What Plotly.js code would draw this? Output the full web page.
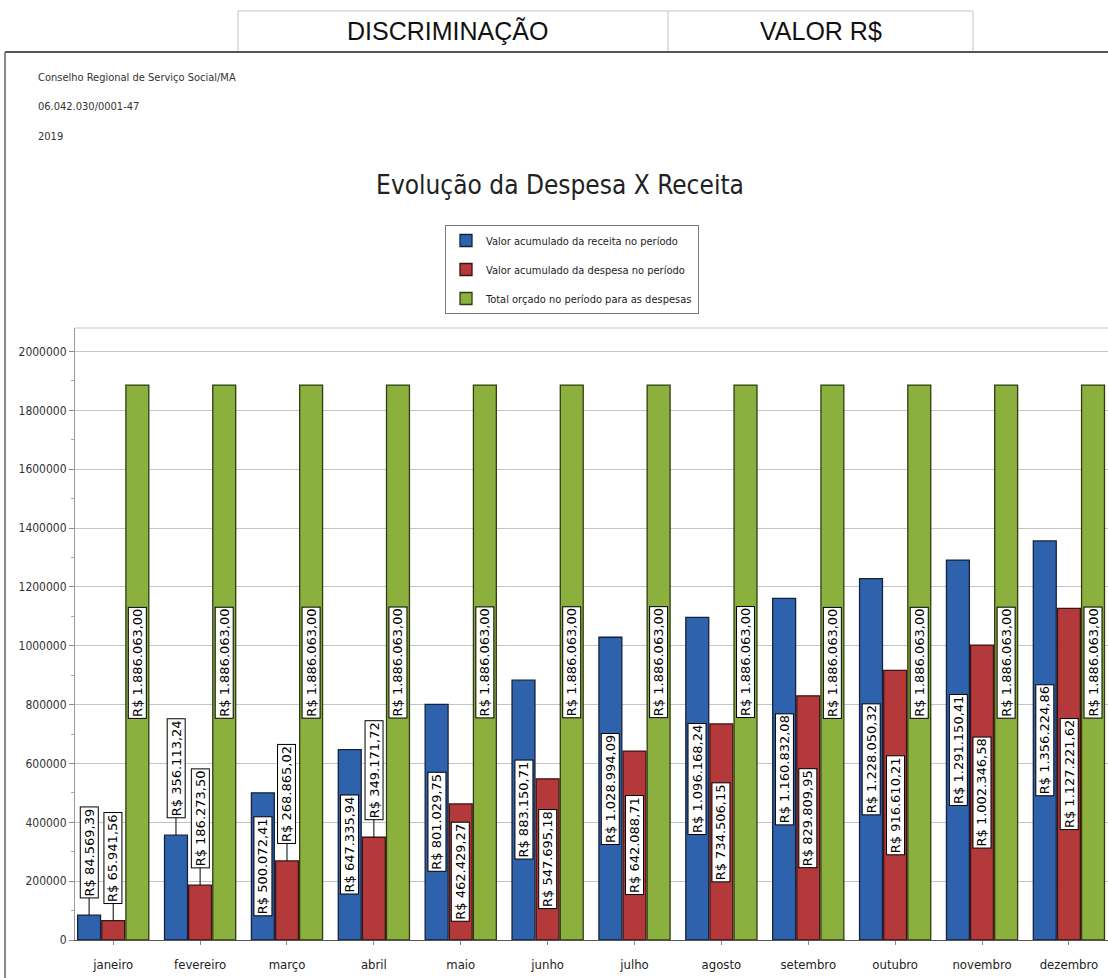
<!DOCTYPE html>
<html>
<head>
<meta charset="utf-8">
<script src="https://cdn.plot.ly/plotly-3.0.1.min.js"></script>
<style>
  html, body { margin: 0; padding: 0; background: #ffffff; }
  #chart { width: 1108px; height: 978px; }
</style>
</head>
<body>
<div id="chart"></div>
<script>
// ---------- DATA ----------
const months = ['janeiro', 'fevereiro', 'março', 'abril', 'maio', 'junho', 'julho', 'agosto', 'setembro', 'outubro', 'novembro', 'dezembro'];
const receita = [84569.39, 356113.24, 500072.41, 647335.94, 801029.75, 883150.71, 1028994.09, 1096168.24, 1160832.08, 1228050.32, 1291150.41, 1356224.86];
const despesa = [65941.56, 186273.50, 268865.02, 349171.72, 462429.27, 547695.18, 642088.71, 734506.15, 829809.95, 916610.21, 1002346.58, 1127221.62];
const orcado = [1886063.00, 1886063.00, 1886063.00, 1886063.00, 1886063.00, 1886063.00, 1886063.00, 1886063.00, 1886063.00, 1886063.00, 1886063.00, 1886063.00];
const seriesNames = ['Valor acumulado da receita no período', 'Valor acumulado da despesa no período', 'Total orçado no período para as despesas'];
const headerCols = ['DISCRIMINAÇÃO', 'VALOR R$'];
const infoLines = ['Conselho Regional de Serviço Social/MA', '06.042.030/0001-47', '2019'];
const chartTitle = 'Evolução da Despesa X Receita';
const yTicks = [0, 200000, 400000, 600000, 800000, 1000000, 1200000, 1400000, 1600000, 1800000, 2000000];

// ---------- LAYOUT GEOMETRY ----------
const W = 1108, H = 978;
const M = {l: 75, r: 0, t: 328, b: 38};
const plotW = W - M.l - M.r, plotH = H - M.t - M.b;
const yMax = 2080000;
const xRange = [-0.44, 11.45];
const bargap = 0.167, bargroupgap = 0.05;
const px2x = px => (px - M.l) / plotW;
const py2y = py => (H - M.b - py) / plotH;

const NARROW = '"Liberation Sans Narrow", "DejaVu Sans Condensed", "Liberation Sans", Arial, sans-serif';
const ARIAL = '"Liberation Sans", Arial, sans-serif';
const LABELFONT = '"DejaVu Sans", Verdana, sans-serif';
const LABELSIZE = 13;

function brl(v) {
  const parts = v.toFixed(2).split('.');
  return 'R$ ' + parts[0].replace(/\B(?=(\d{3})+(?!\d))/g, '.') + ',' + parts[1];
}

const cvs = document.createElement('canvas').getContext('2d');
cvs.font = LABELSIZE + 'px ' + LABELFONT;
function labelLen(t) { return cvs.measureText(t).width + 6; }

const colors = ['#2f62ad', '#b3393a', '#8bb03e'];
const lineColors = ['#14233d', '#3d1212', '#2f3d12'];
const allSeries = [receita, despesa, orcado];

const traces = allSeries.map((vals, k) => ({
  type: 'bar',
  name: seriesNames[k],
  x: months,
  y: vals,
  legendgroup: 'g' + k,
  marker: {color: colors[k], line: {color: lineColors[k], width: 1.3}},
  hoverinfo: 'none',
  textposition: 'none'
}));

// ---------- DATA LABELS ----------
const slot = (1 - bargap) / 3;
const pxPerUnit = plotH / yMax;
const annotations = [];
allSeries.forEach((vals, k) => {
  const off = (k - 1) * slot;
  vals.forEach((v, i) => {
    const t = brl(v);
    const len = labelLen(t);
    const barPx = v * pxPerUnit;
    const base = {
      xref: 'x', yref: 'y', x: i + off, text: t, textangle: -90,
      font: {family: LABELFONT, size: LABELSIZE, color: '#000'},
      bgcolor: '#ffffff', bordercolor: '#000000', borderwidth: 1, borderpad: 1
    };
    if (barPx > len + 25) {
      annotations.push(Object.assign(base, {y: v / 2, showarrow: false}));
    } else {
      annotations.push(Object.assign(base, {
        y: v, showarrow: true, arrowhead: 0, arrowwidth: 1, arrowcolor: '#000',
        ax: 0, ay: -(16 + len / 2)
      }));
    }
  });
});

// header table texts
annotations.push({xref: 'paper', yref: 'paper', x: px2x(447), y: py2y(31), text: headerCols[0], showarrow: false,
  font: {family: ARIAL, size: 25, color: '#111'}, xanchor: 'center', yanchor: 'middle'});
annotations.push({xref: 'paper', yref: 'paper', x: px2x(821), y: py2y(31), text: headerCols[1], showarrow: false,
  font: {family: ARIAL, size: 25, color: '#111'}, xanchor: 'center', yanchor: 'middle'});
// info lines
infoLines.forEach((t, j) => {
  annotations.push({xref: 'paper', yref: 'paper', x: px2x(36), y: py2y(78 + 29 * j), text: t, showarrow: false,
    font: {family: NARROW, size: 11, color: '#333'}, xanchor: 'left', yanchor: 'middle'});
});

const shapes = [
  // header table
  {type: 'rect', xref: 'paper', yref: 'paper', x0: px2x(238), x1: px2x(973), y0: py2y(11), y1: py2y(52),
    line: {color: '#c4c4c4', width: 1}},
  {type: 'line', xref: 'paper', yref: 'paper', x0: px2x(668), x1: px2x(668), y0: py2y(11), y1: py2y(52),
    line: {color: '#c4c4c4', width: 1}},
  // outer frame
  {type: 'line', xref: 'paper', yref: 'paper', x0: px2x(5), x1: px2x(1108), y0: py2y(52), y1: py2y(52),
    line: {color: '#555', width: 2}},
  {type: 'line', xref: 'paper', yref: 'paper', x0: px2x(5), x1: px2x(5), y0: py2y(52), y1: py2y(978),
    line: {color: '#666', width: 1.5}},
  // plot area top border
  {type: 'line', xref: 'paper', yref: 'paper', x0: 0, x1: 1, y0: 1, y1: 1,
    line: {color: '#c8c8c8', width: 1}}
];

const layout = {
  width: W, height: H,
  margin: M,
  paper_bgcolor: '#ffffff', plot_bgcolor: '#ffffff',
  barmode: 'group', bargap: bargap, bargroupgap: bargroupgap,
  title: {text: chartTitle, x: 560 / W, xanchor: 'center', y: 1 - 185 / H, yanchor: 'middle',
    font: {family: NARROW, size: 26, color: '#222'}},
  showlegend: true,
  legend: {x: px2x(445), y: py2y(225), xanchor: 'left', yanchor: 'top',
    bgcolor: '#ffffff', bordercolor: '#7a7a7a', borderwidth: 1,
    traceorder: 'grouped', tracegroupgap: 10,
    font: {family: NARROW, size: 11, color: '#222'}},
  xaxis: {type: 'category', range: xRange, showgrid: false, zeroline: false,
    showline: true, linecolor: '#555', linewidth: 1,
    ticks: 'outside', ticklen: 4, tickcolor: '#888', ticklabelstandoff: 8,
    tickfont: {family: NARROW, size: 13, color: '#222'}},
  yaxis: {range: [0, yMax], tickvals: yTicks, tickformat: 'd',
    showgrid: true, gridcolor: '#c4c4c4', gridwidth: 1, zeroline: false,
    showline: true, linecolor: '#999', linewidth: 1,
    ticks: 'outside', ticklen: 5, tickcolor: '#888',
    minor: {ticks: 'outside', dtick: 100000, ticklen: 3, tickcolor: '#aaa', showgrid: false},
    tickfont: {family: NARROW, size: 12, color: '#333'}},
  annotations: annotations,
  shapes: shapes,
  hovermode: false
};

Plotly.newPlot('chart', traces, layout, {staticPlot: true, displayModeBar: false});
</script>
</body>
</html>
